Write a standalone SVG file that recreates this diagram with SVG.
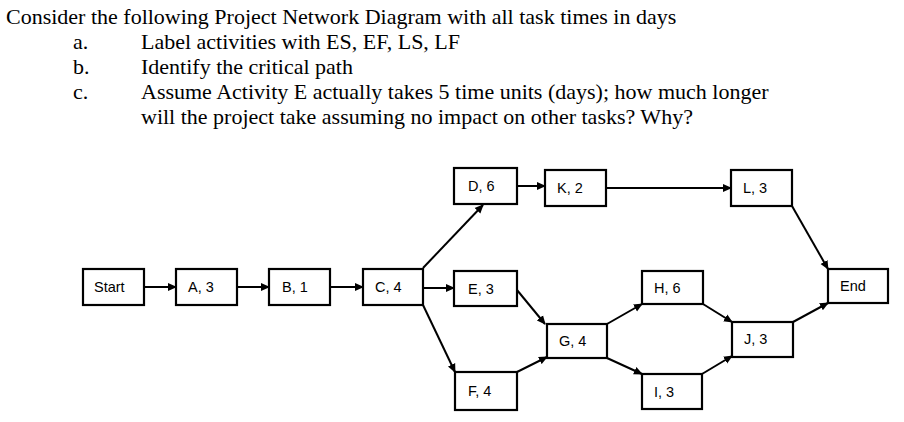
<svg xmlns="http://www.w3.org/2000/svg" width="904" height="422" viewBox="0 0 904 422">
<style>
.t{font-family:"Liberation Serif",serif;font-size:22px;fill:#000}
.n rect{fill:#fff;stroke:#000;stroke-width:2.2}
.n text{font-family:"Liberation Sans",sans-serif;font-size:14.5px;fill:#000}
.c line{stroke:#000;stroke-width:2;marker-end:url(#a)}
</style>
<defs><marker id="a" markerWidth="9" markerHeight="9" refX="8" refY="4.5" orient="auto" markerUnits="userSpaceOnUse"><path d="M0,0.5 L9,4.5 L0,8.5z" fill="#000"/></marker></defs>
<rect width="904" height="422" fill="#fff"/>
<text class="t" x="6" y="24">Consider the following Project Network Diagram with all task times in days</text>
<text class="t" x="73" y="49">a.</text><text class="t" x="141" y="49">Label activities with ES, EF, LS, LF</text>
<text class="t" x="73" y="74">b.</text><text class="t" x="141" y="74">Identify the critical path</text>
<text class="t" x="73" y="99">c.</text><text class="t" x="141" y="99">Assume Activity E actually takes 5 time units (days); how much longer</text>
<text class="t" x="141" y="124">will the project take assuming no impact on other tasks? Why?</text>
<g class="c">
<line x1="144" y1="287" x2="176" y2="287"/>
<line x1="237" y1="287" x2="269" y2="287"/>
<line x1="330" y1="287" x2="363" y2="287"/>
<line x1="423" y1="268" x2="483" y2="205"/>
<line x1="423" y1="288" x2="454" y2="288"/>
<line x1="423" y1="305" x2="455" y2="372"/>
<line x1="517" y1="186" x2="545" y2="186"/>
<line x1="606" y1="188" x2="731" y2="188"/>
<line x1="792" y1="206" x2="828" y2="269"/>
<line x1="517" y1="290" x2="545" y2="324"/>
<line x1="517" y1="372" x2="547" y2="357"/>
<line x1="607" y1="324" x2="642" y2="304"/>
<line x1="607" y1="358" x2="642" y2="374"/>
<line x1="703" y1="304" x2="732" y2="322"/>
<line x1="702" y1="374" x2="732" y2="356"/>
<line x1="793" y1="322" x2="828" y2="303"/>
</g>
<g id="start" class="n"><rect x="83" y="269" width="61" height="36"/><text x="94" y="292">Start</text></g>
<g id="A" class="n"><rect x="176" y="269" width="61" height="36"/><text x="188" y="292">A, 3</text></g>
<g id="B" class="n"><rect x="269" y="269" width="61" height="36"/><text x="282" y="292">B, 1</text></g>
<g id="C" class="n"><rect x="363" y="269" width="60" height="36"/><text x="375" y="292">C, 4</text></g>
<g id="D" class="n"><rect x="454" y="168" width="63" height="36"/><text x="468" y="191">D, 6</text></g>
<g id="E" class="n"><rect x="454" y="271" width="63" height="35"/><text x="468" y="294">E, 3</text></g>
<g id="F" class="n"><rect x="455" y="372" width="62" height="38"/><text x="468" y="396">F, 4</text></g>
<g id="K" class="n"><rect x="545" y="170" width="61" height="36"/><text x="557" y="193">K, 2</text></g>
<g id="L" class="n"><rect x="731" y="170" width="61" height="36"/><text x="743" y="193">L, 3</text></g>
<g id="G" class="n"><rect x="547" y="324" width="60" height="34"/><text x="559" y="346">G, 4</text></g>
<g id="H" class="n"><rect x="642" y="271" width="61" height="33"/><text x="654" y="293">H, 6</text></g>
<g id="I" class="n"><rect x="642" y="374" width="60" height="35"/><text x="654" y="397">I, 3</text></g>
<g id="J" class="n"><rect x="732" y="322" width="61" height="35"/><text x="744" y="344">J, 3</text></g>
<g id="End" class="n"><rect x="828" y="269" width="60" height="34"/><text x="840" y="291">End</text></g>
</svg>
